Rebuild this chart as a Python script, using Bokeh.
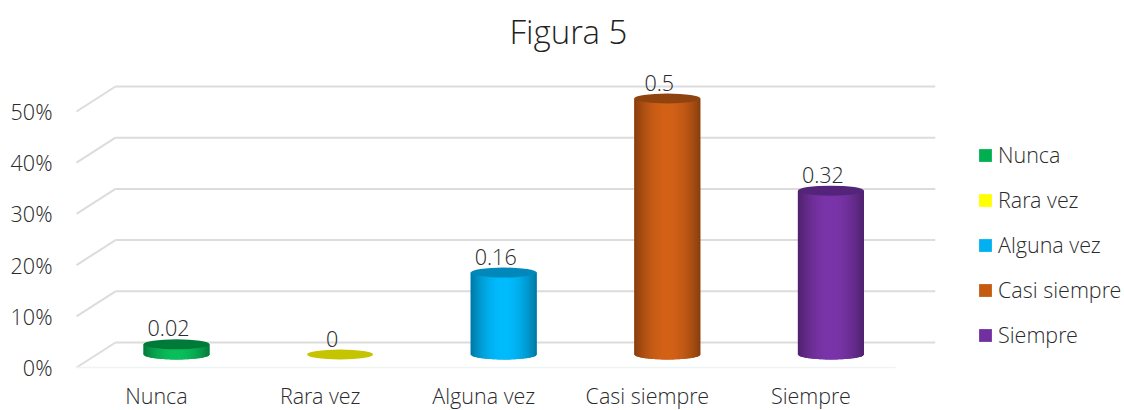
import math
from bokeh.plotting import figure
from bokeh.models import Range1d, LinearAxis, FixedTicker, Legend, LegendItem
from bokeh.core.properties import value
from bokeh.embed import file_html
from bokeh.resources import INLINE

# ---- data
categories = ["Nunca", "Rara vez", "Alguna vez", "Casi siempre", "Siempre"]
shares = [0.02, 0.0, 0.16, 0.5, 0.32]
share_labels = ["0.02", "0", "0.16", "0.5", "0.32"]
tick_values = [0.0, 0.1, 0.2, 0.3, 0.4, 0.5]
tick_labels = ["0%", "10%", "20%", "30%", "40%", "50%"]
legend_colors = ["#00B050", "#FFFF00", "#00B0F0", "#C55A11", "#7030A0"]
side_colors = ["#0abf5c", "#FFFF00", "#00bcff", "#d46217", "#7b35aa"]
top_colors = ["#007a38", "#C4C400", "#0088bb", "#8f4410", "#53247a"]

FONT = "Open Sans Light"
TEXT = "#2b2b2b"
GRID = "#dcdcdc"

# ---- layout (page pixels)
FL, FR, FT, FB = 75, 935, 60, 372       # frame edges in page pixels
BAR0_PX, BAR_STEP = 176.0, 163.6        # first category centre, spacing
BASE_PX, Y_SCALE = 355.0, 512.0         # y pixel of value 0 at bar plane, px per unit
x_start = (FL - BAR0_PX) / BAR_STEP
x_end = (FR - BAR0_PX) / BAR_STEP
y_start = (BASE_PX - FB) / Y_SCALE
y_end = (BASE_PX - FT) / Y_SCALE
front_dy, back_dy = 13 / Y_SCALE, 12 / Y_SCALE
front_dx = 20 / BAR_STEP

p = figure(frame_width=FR - FL, frame_height=FB - FT, output_backend="svg", toolbar_location=None,
           x_range=Range1d(x_start, x_end), y_range=Range1d(y_start, y_end),
           min_border_left=FL, min_border_right=1124 - FR,
           min_border_top=0, min_border_bottom=38,
           outline_line_color=None, background_fill_color="white", border_fill_color="white")
p.grid.visible = False
p.xaxis.visible = False
p.yaxis.visible = False

p.title.text = "Figura 5"
p.title.text_font = "Open Sans Light"
p.title.text_font_size = "33px"
p.title.text_font_style = "normal"
p.title.text_color = "#222222"
p.title.align = "left"
p.title.offset = 434
p.title.standoff = 12

# front-plane axes
p.extra_x_ranges["front"] = Range1d(x_start + front_dx, x_end + front_dx)
p.extra_y_ranges["front"] = Range1d(y_start + front_dy, y_end + front_dy)
xa = LinearAxis(x_range_name="front", ticker=FixedTicker(ticks=list(range(5))),
                major_label_overrides={i: c for i, c in enumerate(categories)})
ya = LinearAxis(y_range_name="front", ticker=FixedTicker(ticks=tick_values),
                major_label_overrides=dict(zip(tick_values, tick_labels)))
for a in (xa, ya):
    a.axis_line_color = None
    a.major_tick_line_color = None
    a.minor_tick_line_color = None
    a.major_label_text_font = FONT
    a.major_label_text_font_size = "21.5px"
    a.major_label_text_color = TEXT
xa.major_label_standoff = 3
ya.major_label_standoff = 17
p.add_layout(xa, "below")
p.add_layout(ya, "left")

# walls
back_x0 = x_start + 40 / BAR_STEP
p.segment([back_x0] * 6, [t + back_dy for t in tick_values], [x_end] * 6, [t + back_dy for t in tick_values],
          line_color=GRID, line_width=2)
p.segment([x_start + 1 / BAR_STEP] * 6, [t - front_dy for t in tick_values], [back_x0] * 6, [t + back_dy for t in tick_values],
          line_color=GRID, line_width=2)
p.segment([x_start], [-front_dy], [x_end - 40 / BAR_STEP], [-front_dy], line_color="#eef3f3", line_width=1.5)


def mix(hexcol, f):
    r, g, b = (int(hexcol[i:i + 2], 16) for i in (1, 3, 5))
    return "#%02x%02x%02x" % (int(r * f), int(g * f), int(b * f))


RX, RY = 33 / BAR_STEP, 5 / Y_SCALE
STRIPS = 44
items = []
for i, (cat, v, leg, side, top) in enumerate(zip(categories, shares, legend_colors, side_colors, top_colors)):
    flat = p.vbar(x=[i], top=[v], bottom=[0], width=2 * RX, fill_color=leg, line_color=None)
    items.append(LegendItem(label=cat, renderers=[flat]))
    xs, ys, colors = [], [], []
    for k in range(STRIPS):
        u0, u1 = -1 + 2 * k / STRIPS, -1 + 2 * (k + 1) / STRIPS
        um = (u0 + u1) / 2
        b0 = -RY * math.sqrt(max(0, 1 - u0 * u0))
        b1 = -RY * math.sqrt(max(0, 1 - u1 * u1))
        x0, x1 = i + u0 * RX, i + min(u1 * RX + 0.004, RX)
        xs.append([x0, x1, x1, x0])
        ys.append([b0, b1, v, v])
        colors.append(mix(side, 0.62 + 0.38 * math.cos(um * math.pi / 2) ** 0.8))
    if v > 0:
        p.ellipse(x=[i], y=[0], width=2 * RX, height=2 * RY, fill_color=mix(side, 0.85), line_color=None)
        p.patches(xs=xs, ys=ys, fill_color=colors, line_color=None)
    p.ellipse(x=[i], y=[v], width=2 * RX, height=2 * RY, fill_color=top, line_color=None)

p.text(x=list(range(5)), y=shares, text=share_labels, x_offset=-8, y_offset=-16,
       text_align="center", text_baseline="middle", text_font=value(FONT),
       text_font_size="21.5px", text_color=TEXT)

legend = Legend(items=items, location=(42, 22), orientation="vertical",
                glyph_width=16, glyph_height=16, label_standoff=5, spacing=16, padding=0, margin=0,
                border_line_color=None, background_fill_alpha=0,
                label_text_font=FONT, label_text_font_size="21.5px", label_text_color=TEXT)
p.add_layout(legend, "right")

open("out.html", "w").write(file_html(p, INLINE))
